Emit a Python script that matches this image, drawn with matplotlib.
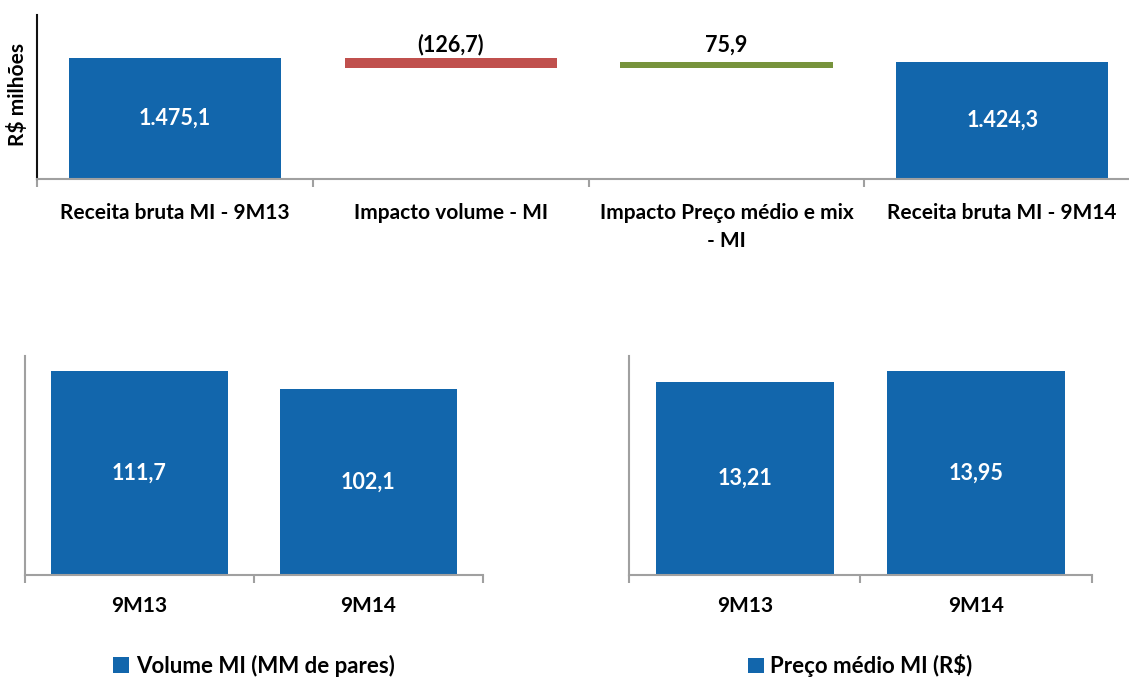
import matplotlib
matplotlib.use("Agg")
import matplotlib.pyplot as plt
import numpy as np

plt.rcParams['font.family'] = ['Lato', 'DejaVu Sans']
plt.rcParams['font.weight'] = 'bold'

## Data
top_categories = ["Receita bruta MI - 9M13", "Impacto volume - MI",
                  "Impacto Preço médio e mix\n- MI", "Receita bruta MI - 9M14"]
receita_9m13 = 1475.1
impactos = [-126.7, 75.9]
receita_9m14 = 1424.3

periods = ["9M13", "9M14"]
volume_mi = [111.7, 102.1]      # MM de pares
preco_medio = [13.21, 13.95]    # R$

BLUE = '#1266ac'
RED = '#c0504d'
GREEN = '#77933c'
GRAY = '#a0a0a0'


# Brazilian number format, negatives in parentheses
def fmt_br(v, dec=1):
    s = f"{abs(v):,.{dec}f}".replace(',', 'X').replace('.', ',').replace('X', '.')
    return f"({s})" if v < 0 else s


def style_cat_axis(ax, n, left_color):
    ax.set_xlim(-0.5, n - 0.5)
    ax.set_xticks(range(n))
    ax.set_xticks(np.arange(n + 1) - 0.5, minor=True)
    ax.tick_params(axis='x', which='major', length=0)
    ax.tick_params(axis='x', which='minor', length=6, width=1.5, color=GRAY, direction='out')
    ax.set_yticks([])
    for s in ['top', 'right']:
        ax.spines[s].set_visible(False)
    ax.spines['bottom'].set_color(GRAY)
    ax.spines['bottom'].set_linewidth(1.5)
    ax.spines['left'].set_color(left_color)
    ax.spines['left'].set_linewidth(1.5)


fig = plt.figure(figsize=(11.29, 6.82), dpi=100)

## Top waterfall
ax = fig.add_axes([0.0328, 0.7375, 0.977, 0.2405])
x = np.arange(len(top_categories))
w = 0.77
ax.bar(x[0], receita_9m13, width=w, color=BLUE)
running = receita_9m13
imp_colors = [RED, GREEN]
label_y = receita_9m13 + 160
for i, v in enumerate(impactos):
    bottom = running + min(v, 0)
    ax.bar(x[i + 1], abs(v), bottom=bottom, width=w, color=imp_colors[i])
    ax.text(x[i + 1], label_y, fmt_br(v), ha='center', va='center', fontsize=15.5, fontweight='bold')
    running += v
ax.bar(x[3], receita_9m14, width=w, color=BLUE)
for xi, v in [(x[0], receita_9m13), (x[3], receita_9m14)]:
    ax.text(xi, v / 2, fmt_br(v), ha='center', va='center', color='white', fontsize=15.5, fontweight='bold')
ax.set_ylim(0, 2000)
style_cat_axis(ax, len(top_categories), '#111111')
ax.set_xticklabels(top_categories, fontsize=15, fontweight='bold', linespacing=1.5)
ax.tick_params(axis='x', which='major', pad=17)
fig.text(18 / 1129, 1 - 95 / 682, "R$ milhões", rotation=90, ha='center', va='center',
         fontsize=15, fontweight='bold')

## Bottom charts
def small_chart(rect, values, dec, legend_label):
    a = fig.add_axes(rect)
    xs = np.arange(len(periods))
    bars = a.bar(xs, values, width=0.77, color=BLUE, label=legend_label)
    for xi, v in zip(xs, values):
        a.text(xi, v / 2, fmt_br(v, dec), ha='center', va='center', color='white',
               fontsize=15.5, fontweight='bold')
    style_cat_axis(a, len(periods), GRAY)
    a.set_xticklabels(periods, fontsize=15, fontweight='bold')
    a.tick_params(axis='x', which='major', pad=15)
    a.legend(handles=[bars], labels=[legend_label], loc='center', bbox_to_anchor=(0.5, -0.415),
             frameon=False, handlelength=0.7, handleheight=0.7, handletextpad=0.3,
             prop={'size': 16, 'weight': 'bold'})
    return a

ax1 = small_chart([0.0221, 0.1569, 0.4057, 0.3211], volume_mi, 1, "Volume MI (MM de pares)")
ax1.set_ylim(0, 120)
ax2 = small_chart([0.5571, 0.1569, 0.4101, 0.3211], preco_medio, 2, "Preço médio MI (R$)")
ax2.set_ylim(0, 15)

fig.savefig("out.png", dpi=100)
